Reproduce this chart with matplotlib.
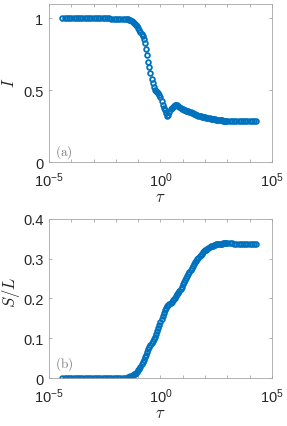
import numpy as np
import matplotlib
matplotlib.use("Agg")
from matplotlib import pyplot as plt
from matplotlib.ticker import FixedLocator, FuncFormatter, NullFormatter

plt.rcParams['font.family'] = ['Liberation Sans', 'DejaVu Sans']
plt.rcParams['mathtext.fontset'] = 'cm'

# log10(tau) sample points
log_tau = [-4.4, -4.3, -4.2, -4.1, -4.0, -3.9, -3.8, -3.7, -3.6, -3.5,
           -3.4, -3.3, -3.2, -3.1, -3.0, -2.9, -2.8, -2.7, -2.6, -2.5,
           -2.4, -2.3, -2.2, -2.1, -2.0, -1.9, -1.8, -1.7, -1.6,
           -1.5, -1.45, -1.4, -1.35, -1.3, -1.25, -1.2, -1.15, -1.1, -1.05,
           -1.0, -0.95, -0.9, -0.85, -0.8, -0.75, -0.7, -0.65, -0.6, -0.55,
           -0.5, -0.45, -0.4, -0.35, -0.3, -0.25, -0.2, -0.15, -0.1, -0.05,
           0.0, 0.05, 0.1, 0.15, 0.2, 0.25, 0.3, 0.35, 0.4, 0.45,
           0.5, 0.55, 0.6, 0.65, 0.7, 0.75, 0.8, 0.85, 0.9, 0.95,
           1.0, 1.05, 1.1, 1.15, 1.2, 1.25, 1.3, 1.35, 1.4, 1.45,
           1.5, 1.55, 1.6, 1.65, 1.7, 1.75, 1.8, 1.85, 1.9, 1.95,
           2.0, 2.05, 2.1, 2.15, 2.2, 2.25, 2.3, 2.35, 2.4, 2.45,
           2.5, 2.55, 2.6, 2.65, 2.7, 2.75, 2.8, 2.85, 2.9, 2.95,
           3.0, 3.1, 3.2, 3.3, 3.4, 3.5, 3.6, 3.7, 3.8, 3.9,
           4.0, 4.1, 4.2, 4.3]

# panel (a): I
I_vals = [1.0, 1.0, 1.0, 1.0, 1.0, 1.0, 1.0, 1.0, 1.0, 1.0,
          1.0, 1.0, 1.0, 1.0, 1.0, 1.0, 1.0, 1.0, 1.0, 1.0,
          1.0, 1.0, 0.999, 0.999, 0.999, 0.999, 0.998, 0.998, 0.997,
          0.995, 0.993, 0.991, 0.988, 0.984, 0.978, 0.972, 0.964, 0.955, 0.946,
          0.935, 0.921, 0.905, 0.890, 0.875, 0.855, 0.83, 0.79, 0.745, 0.70,
          0.66, 0.62, 0.58, 0.548, 0.52, 0.505, 0.495, 0.487, 0.478, 0.466,
          0.45, 0.425, 0.40, 0.38, 0.36, 0.34, 0.324, 0.33, 0.35, 0.368,
          0.38, 0.386, 0.39, 0.395, 0.398, 0.395, 0.39, 0.382, 0.375, 0.371,
          0.368, 0.365, 0.362, 0.359, 0.356, 0.353, 0.350, 0.347, 0.343, 0.340,
          0.336, 0.332, 0.328, 0.325, 0.323, 0.320, 0.318, 0.316, 0.314, 0.312,
          0.311, 0.309, 0.308, 0.306, 0.305, 0.303, 0.302, 0.300, 0.299, 0.297,
          0.296, 0.295, 0.294, 0.292, 0.291, 0.290, 0.289, 0.288, 0.288, 0.287,
          0.287, 0.286, 0.286, 0.286, 0.285, 0.285, 0.285, 0.285, 0.285, 0.285,
          0.285, 0.285, 0.285, 0.285]

# panel (b): S/L
SL_vals = [0.0, 0.0, 0.0, 0.0, 0.0, 0.0, 0.0, 0.0, 0.0, 0.0,
           0.0, 0.0, 0.0, 0.0, 0.0, 0.0, 0.0, 0.0, 0.0, 0.0,
           0.0, 0.0, 0.0, 0.0, 0.0, 0.0, 0.0, 0.0, 0.0,
           0.001, 0.002, 0.003, 0.004, 0.006, 0.007, 0.009, 0.011, 0.013, 0.016,
           0.019, 0.023, 0.028, 0.034, 0.040, 0.046, 0.052, 0.059, 0.066, 0.073,
           0.079, 0.084, 0.088, 0.093, 0.098, 0.104, 0.110, 0.118, 0.127, 0.134,
           0.140, 0.148, 0.156, 0.163, 0.170, 0.175, 0.180, 0.183, 0.186, 0.189,
           0.192, 0.195, 0.198, 0.202, 0.207, 0.211, 0.215, 0.219, 0.224, 0.230,
           0.236, 0.241, 0.246, 0.251, 0.256, 0.261, 0.266, 0.271, 0.276, 0.281,
           0.286, 0.291, 0.295, 0.299, 0.302, 0.306, 0.310, 0.313, 0.316, 0.319,
           0.321, 0.323, 0.325, 0.327, 0.329, 0.331, 0.332, 0.333, 0.334, 0.335,
           0.336, 0.337, 0.337, 0.338, 0.338, 0.338, 0.339, 0.339, 0.339, 0.339,
           0.339, 0.339, 0.339, 0.338, 0.338, 0.338, 0.337, 0.337, 0.337, 0.337,
           0.336, 0.336, 0.336, 0.336]

tau = 10.0 ** np.array(log_tau)
blue = '#0072BD'
spine_gray = '#a6a6a6'
text_gray = '#262626'


def style_axes(ax, yticks):
    ax.set_xscale('log')
    ax.set_xlim(1e-5, 1e5)
    ax.xaxis.set_major_locator(FixedLocator([1e-5, 1e0, 1e5]))
    ax.xaxis.set_minor_locator(FixedLocator([10.0 ** k for k in range(-4, 5) if k != 0]))
    ax.xaxis.set_minor_formatter(NullFormatter())
    ax.xaxis.set_major_formatter(FuncFormatter(
        lambda v, p: r'$\mathregular{10^{%d}}$' % int(round(np.log10(v)))))
    ax.set_yticks(yticks)
    ax.set_yticklabels([('%g' % t) for t in yticks])
    ax.tick_params(which='both', direction='in', top=True, right=True,
                   color=spine_gray, labelsize=10.5, labelcolor=text_gray,
                   width=0.6, length=2.5)
    ax.tick_params(axis='x', pad=6)
    ax.tick_params(axis='y', pad=4)
    for s in ax.spines.values():
        s.set_color(spine_gray)
        s.set_linewidth(0.6)


fig = plt.figure(figsize=(2.87, 4.27), dpi=100)

ax1 = fig.add_axes([0.1707, 0.618, 0.777, 0.370])
ax1.plot(tau, I_vals, 'o', color=blue, mfc='none', ms=3.4, mew=1.3)
ax1.set_ylim(0, 1.1)
style_axes(ax1, [0, 0.5, 1])
ax1.set_xlabel(r'$\tau$', fontsize=12, labelpad=0, color=text_gray)
fig.text(0.5 / 287, 0.806, r'$I$', rotation=90, ha='left', va='center',
         fontsize=12, color=text_gray)
ax1.text(0.027, 0.07, r'$\mathrm{(a)}$', transform=ax1.transAxes, fontsize=9.5,
         va='center', color='#808080')

ax2 = fig.add_axes([0.1707, 0.1124, 0.777, 0.3724])
ax2.plot(tau, SL_vals, 'o', color=blue, mfc='none', ms=3.4, mew=1.3)
ax2.set_ylim(0, 0.4)
style_axes(ax2, [0, 0.1, 0.2, 0.3, 0.4])
ax2.set_xlabel(r'$\tau$', fontsize=12, labelpad=0, color=text_gray)
fig.text(0.5 / 287, 0.315, r'$S/L$', rotation=90, ha='left', va='center',
         fontsize=12, color=text_gray)
ax2.text(0.027, 0.094, r'$\mathrm{(b)}$', transform=ax2.transAxes, fontsize=9.5,
         va='center', color='#808080')

fig.savefig('out.png', dpi=100)
